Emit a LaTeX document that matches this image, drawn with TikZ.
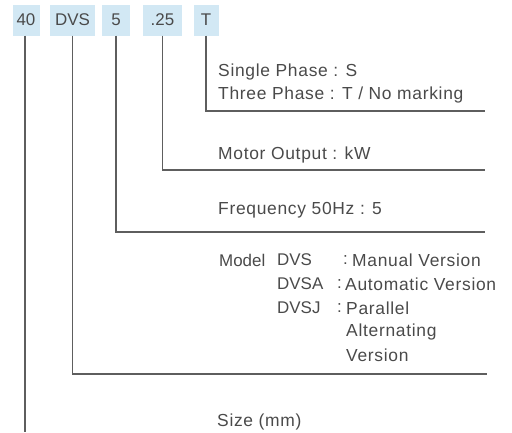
\documentclass[tikz,border=0pt]{standalone}
\usepackage{fontspec}
\setmainfont{Liberation Sans}
\newfontfamily\lblfont[LetterSpace=4]{Liberation Sans}
\definecolor{txt}{HTML}{4A4A4A}
\definecolor{ln}{HTML}{5E5E5E}
\definecolor{boxc}{HTML}{D2E8F4}
\begin{document}
\begin{tikzpicture}[x=1bp,y=-1bp,
  code/.style={fill=boxc, text=txt, font=\fontsize{17}{20}\selectfont, inner sep=0pt, minimum height=31bp},
  lbl/.style={anchor=west, text=txt, font=\lblfont\fontsize{17.5}{20}\selectfont, inner sep=0pt},
  tight/.style={anchor=west, text=txt, font=\fontsize{17}{20}\selectfont, inner sep=0pt},
  conn/.style={draw=ln, line width=1.4bp}]
\useasboundingbox (0,0) rectangle (512,432);
% code boxes
\node[code, minimum width=27bp] (c40) at (26,20) {40};
\node[code, minimum width=45bp] (cDVS) at (72.5,20) {DVS};
\node[code, minimum width=28bp] (c5) at (116,20) {5};
\node[code, minimum width=39bp] (c25) at (162.5,20) {.25};
\node[code, minimum width=25bp] (cT) at (206,20) {T};
% line end coordinates
\coordinate (eT) at (485,111);
\coordinate (e25) at (485,170);
\coordinate (e5) at (485,232);
\coordinate (eDVS) at (487,374);
\coordinate (e40) at (25,432);
% connectors
\draw[conn] (cT.south) |- (eT);
\draw[conn] (c25.south) |- (e25);
\draw[conn] (c5.south) |- (e5);
\draw[conn] (cDVS.south) |- (eDVS);
\draw[conn] (c40.south -| e40) -- (e40);
% labels
\node[lbl] (sp) at (218,72) {Single Phase : S};
\node[lbl] (tp) at (218,95) {Three Phase : T / No marking};
\node[lbl] (mo) at (218,155) {Motor Output : kW};
\node[lbl] (fr) at (218,210) {Frequency 50Hz : 5};
\node[tight] (md) at (219,260) {Model};
\node[tight] (m1) at (277,260) {DVS};
\node[tight] (m1c) at (343,260) {:};
\node[lbl] (m1t) at (352,260) {Manual Version};
\node[tight] (m2) at (277,284) {DVSA};
\node[tight] (m2c) at (337,284) {:};
\node[lbl] (m2t) at (345,284) {Automatic Version};
\node[tight] (m3) at (277,308) {DVSJ};
\node[tight] (m3c) at (337,308) {:};
\node[lbl] (m3t) at (346,308) {Parallel};
\node[lbl] (m4t) at (346,332) {Alternating};
\node[lbl] (m5t) at (346,355) {Version};
\node[lbl] (sz) at (217,422) {Size (mm)};
\end{tikzpicture}
\end{document}
